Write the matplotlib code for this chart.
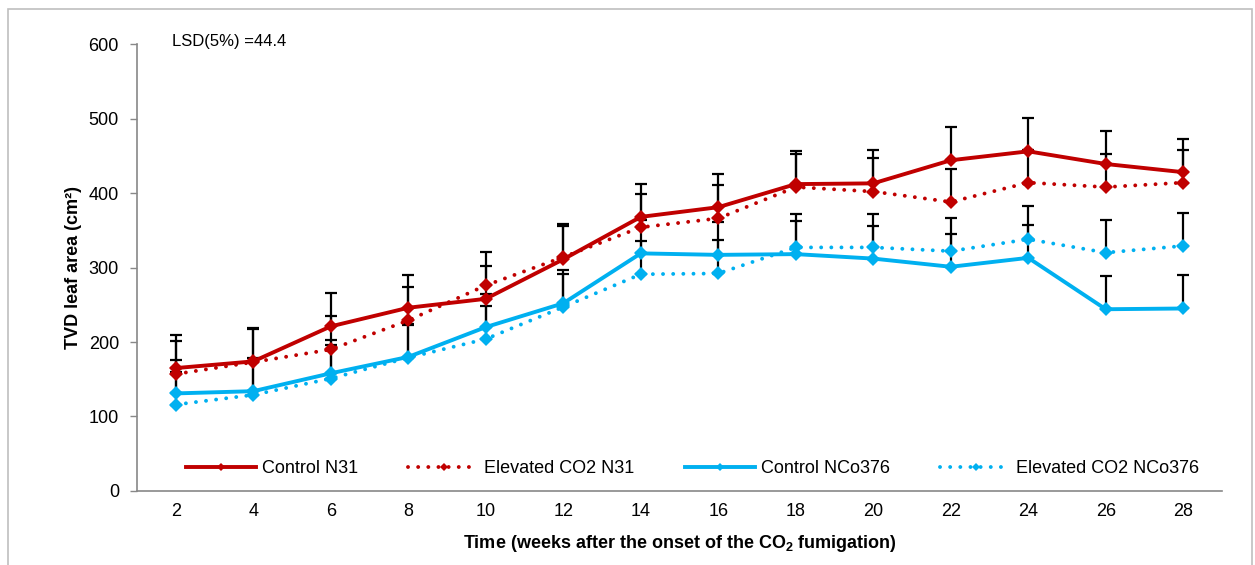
import matplotlib
matplotlib.use("Agg")
import matplotlib.pyplot as plt
from matplotlib.patches import Rectangle

plt.rcParams['font.family'] = ['Liberation Sans', 'DejaVu Sans']
plt.rcParams['mathtext.fontset'] = 'custom'
plt.rcParams['mathtext.rm'] = 'Liberation Sans'
plt.rcParams['mathtext.bf'] = 'Liberation Sans:bold'

# semanas tras el inicio de la fumigacion
weeks = [2, 4, 6, 8, 10, 12, 14, 16, 18, 20, 22, 24, 26, 28]

# area foliar TVD (cm2)
control_n31 = [165, 174, 221, 246, 258, 311, 368, 381, 412, 413, 444, 456, 439, 428]
elevated_n31 = [157, 173, 190, 229, 276, 314, 354, 366, 408, 402, 388, 414, 408, 414]
control_nco376 = [131, 134, 158, 180, 220, 252, 319, 317, 318, 312, 301, 313, 244, 245]
elevated_nco376 = [116, 129, 151, 179, 204, 247, 291, 292, 327, 327, 322, 338, 320, 329]

lsd = 44.4
etiquetas = ["Control N31", "Elevated CO2 N31", "Control NCo376", "Elevated CO2 NCo376"]

rojo = "#C00000"
azul = "#00B0F0"
punteado = (0, (0.01, 2.6))
fs = 13

fig = plt.figure(figsize=(12.55, 5.65), dpi=100)
ax = fig.add_axes([0.1092, 0.131, 0.8645, 0.791])

# marco exterior
fig.patches.append(Rectangle((8 / 1255, -0.01), 1244 / 1255, 1 - 8.5 / 565 + 0.01,
                             transform=fig.transFigure, fill=False,
                             edgecolor="#BFBFBF", linewidth=1.2))

series = [
    (control_n31, rojo, "-"),
    (elevated_n31, rojo, punteado),
    (control_nco376, azul, "-"),
    (elevated_nco376, azul, punteado),
]

for valores, color, estilo in series:
    ax.errorbar(weeks, valores, yerr=[[0] * len(valores), [lsd] * len(valores)],
                fmt="none", ecolor="black", elinewidth=1.6, capsize=4.5,
                capthick=1.6, zorder=2)

for (valores, color, estilo), nombre in zip(series, etiquetas):
    ax.plot(weeks, valores, color=color, linestyle=estilo, linewidth=2.8,
            dash_capstyle="round", marker="D", markersize=7.5,
            markeredgewidth=0, label=nombre, zorder=3)

ax.set_xlim(1, 29)
ax.set_ylim(0, 600)
ax.set_xticks(weeks)
ax.set_yticks(range(0, 601, 100))
ax.tick_params(axis="x", length=0, pad=9, labelsize=fs)
ax.tick_params(axis="y", length=5, width=1, color="#888888", direction="out",
               pad=8, labelsize=fs)

for lado in ["top", "right"]:
    ax.spines[lado].set_visible(False)
for lado in ["left", "bottom"]:
    ax.spines[lado].set_color("#888888")
    ax.spines[lado].set_linewidth(1.2)

ax.set_ylabel("TVD leaf area (cm²)", fontsize=fs, fontweight="bold", labelpad=5)
ax.set_xlabel(r"Time (weeks after the onset of the CO$_\mathbf{2}$ fumigation)",
              fontsize=fs, fontweight="bold", labelpad=9)

ax.text(0.032, 1.005, "LSD(5%) =44.4", transform=ax.transAxes, fontsize=12,
        va="center", ha="left")

ax.legend(loc="lower center", bbox_to_anchor=(0.512, -0.005), ncol=4, frameon=False,
          fontsize=fs, handlelength=3.9, columnspacing=2.8, handletextpad=0.3,
          markerscale=0.6)

fig.savefig("out.png", dpi=100)
